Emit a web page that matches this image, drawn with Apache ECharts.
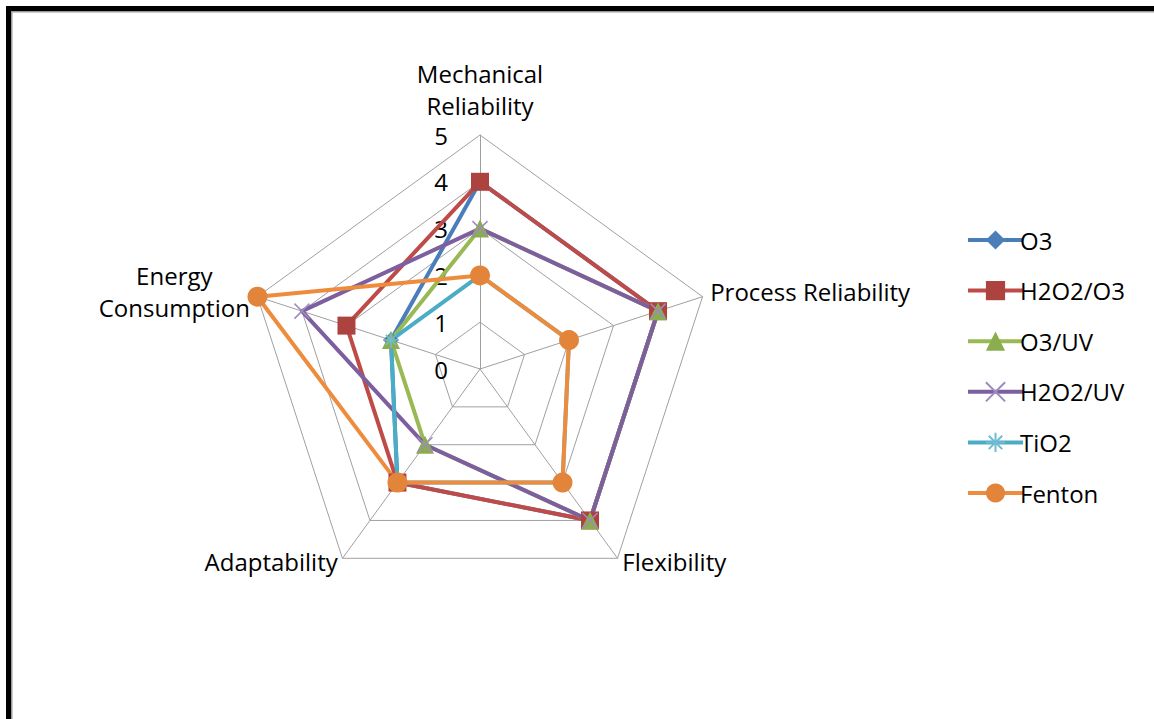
<!DOCTYPE html>
<html>
<head>
<meta charset="utf-8">
<script src="https://cdn.jsdelivr.net/npm/echarts@6/dist/echarts.min.js"></script>
<style>
  html, body { margin: 0; padding: 0; background: #fff; }
  #chart { width: 1154px; height: 719px; }
</style>
</head>
<body>
<div id="chart"></div>
<script>
// Criteria, listed counter-clockwise from the top as the radar lays them out
const indicators = ['Mechanical\nReliability', 'Energy\nConsumption', 'Adaptability', 'Flexibility', 'Process Reliability'];
const scaleTicks = [0, 1, 2, 3, 4, 5];

// Scores per process, same order as the criteria above
const seriesNames = ['O3', 'H2O2/O3', 'O3/UV', 'H2O2/UV', 'TiO2', 'Fenton'];
const o3 = [4, 2, 3, 4, 4];
const h2o2o3 = [4, 3, 3, 4, 4];
const o3uv = [3, 2, 2, 4, 4];
const h2o2uv = [3, 4, 2, 4, 4];
const tio2 = [2, 2, 3, 3, 2];
const fenton = [2, 5, 3, 3, 2];
const seriesValues = [o3, h2o2o3, o3uv, h2o2uv, tio2, fenton];

const FONT = 'Open Sans';
const FS = 24;

const crossPath = 'path://M0,0L10,10M10,0L0,10';
const starPath = 'path://M5,0L5,10M0,5L10,5M1.5,1.5L8.5,8.5M8.5,1.5L1.5,8.5';

const styles = [
  { line: '#4A7EBB', fill: '#4A7EBB', symbol: 'diamond', size: 16, stroke: 0 },
  { line: '#BE4B48', fill: '#AD433F', symbol: 'rect', size: 18, stroke: 0 },
  { line: '#98B954', fill: '#8CAD4D', symbol: 'triangle', size: 18, stroke: 0 },
  { line: '#7D5FA0', fill: '#9D8BBF', symbol: crossPath, size: 15, stroke: 1.5 },
  { line: '#4BACC6', fill: '#6FBCD3', symbol: starPath, size: 15, stroke: 1.5 },
  { line: '#EE8C3E', fill: '#E2853A', symbol: 'circle', size: 20, stroke: 0 }
];

const markerStyle = (i) => ({
  color: styles[i].fill,
  borderColor: styles[i].fill,
  borderWidth: styles[i].stroke
});

// One radar series; each process is a data item drawn in list order
const radarSeries = {
  type: 'radar',
  name: 'Scores',
  radarIndex: 0,
  data: seriesNames.map((name, i) => ({
    name: name,
    value: seriesValues[i],
    symbol: styles[i].symbol,
    symbolSize: styles[i].size,
    lineStyle: { color: styles[i].line, width: 4 },
    itemStyle: markerStyle(i)
  }))
};

// Empty polar line series give the legend its line-and-marker keys
const legendSeries = seriesNames.map((name, i) => ({
  type: 'line',
  name: name,
  coordinateSystem: 'polar',
  data: [],
  symbol: styles[i].symbol,
  symbolSize: styles[i].size,
  lineStyle: { color: styles[i].line, width: 4 },
  itemStyle: markerStyle(i)
}));

const chart = echarts.init(document.getElementById('chart'), null, { renderer: 'svg' });

chart.setOption({
  animation: false,
  backgroundColor: '#ffffff',
  textStyle: { fontFamily: FONT },
  graphic: [
    {
      type: 'rect',
      shape: { x: 8.5, y: 8.5, width: 1300, height: 900 },
      style: { fill: 'none', stroke: '#000', lineWidth: 5 },
      z: 100, silent: true
    },
    {
      type: 'rect',
      shape: { x: 11.75, y: 11.75, width: 1300, height: 900 },
      style: { fill: 'none', stroke: '#9a9a9a', lineWidth: 1.5 },
      z: 100, silent: true
    }
  ],
  legend: {
    orient: 'vertical',
    left: 961,
    top: 223,
    itemWidth: 55,
    itemHeight: 24,
    itemGap: 26.6,
    lineStyle: { width: 4 },
    textStyle: { fontFamily: FONT, fontSize: FS, lineHeight: 24, color: '#000', padding: [0, 0, 0, -8] },
    data: seriesNames
  },
  radar: {
    center: [480, 369],
    radius: 234,
    startAngle: 90,
    shape: 'polygon',
    splitNumber: 5,
    indicator: indicators.map(n => ({ name: n, min: 0, max: 5 })),
    axisName: {
      color: '#000',
      fontFamily: FONT,
      fontSize: FS,
      padding: [0, 0, 6, 0],
      formatter: (name) => name.split('\n').map(s => '{c|' + s + '}').join('\n'),
      rich: {
        c: { align: 'center', fontFamily: FONT, fontSize: FS, lineHeight: 32, color: '#000' }
      }
    },
    nameGap: 8,
    axisLine: { lineStyle: { color: '#a0a0a0', width: 1 } },
    splitLine: { lineStyle: { color: '#a0a0a0', width: 1 } },
    splitArea: { show: false },
    axisTick: { show: false },
    axisLabel: { show: false }
  },
  // Polar frame sharing the radar's centre, used only for the 0–5 scale on the top spoke
  polar: { center: [480, 369], radius: 234 },
  angleAxis: { type: 'value', min: 0, max: 360, startAngle: 90, show: false },
  radiusAxis: {
    type: 'value',
    min: scaleTicks[0],
    max: scaleTicks[scaleTicks.length - 1],
    interval: 1,
    axisLine: { show: false },
    axisTick: { show: false },
    splitLine: { show: false },
    axisLabel: {
      show: true,
      margin: 32,
      color: '#000',
      fontFamily: FONT,
      fontSize: FS,
      formatter: (v) => scaleTicks.includes(v) ? String(v) : ''
    }
  },
  series: [radarSeries].concat(legendSeries)
});
</script>
</body>
</html>
